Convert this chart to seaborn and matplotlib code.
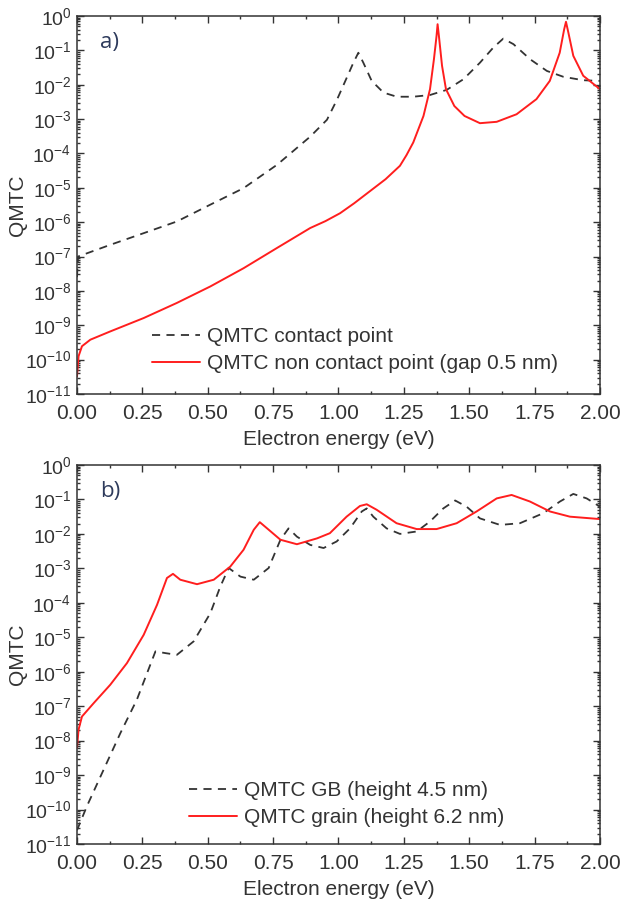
import matplotlib
matplotlib.use("Agg")
import matplotlib.pyplot as plt
import matplotlib.ticker as mticker
import numpy as np
import seaborn as sns

# panel a) contact vs non-contact point, values as log10(QMTC)
a_contact_e = [0.000, 0.004, 0.127, 0.255, 0.382, 0.51, 0.637, 0.765, 0.892, 0.956, 0.994,
               1.018, 1.057, 1.076, 1.095, 1.127, 1.172, 1.223, 1.286, 1.35, 1.414, 1.478,
               1.541, 1.592, 1.63, 1.669, 1.733, 1.797, 1.86, 1.936, 2.0]
a_contact_log = [-7.60, -7.00, -6.66, -6.32, -5.98, -5.49, -5.01, -4.33, -3.51, -3.02, -2.44,
                 -2.03, -1.36, -1.07, -1.36, -1.89, -2.23, -2.35, -2.35, -2.30, -2.15, -1.84,
                 -1.36, -0.92, -0.66, -0.82, -1.26, -1.60, -1.77, -1.87, -1.89]

a_gap_e = [0.000, 0.006, 0.019, 0.051, 0.127, 0.255, 0.382, 0.51, 0.637, 0.765, 0.892, 0.95,
           1.006, 1.06, 1.12, 1.18, 1.235, 1.26, 1.286, 1.325, 1.35, 1.365, 1.375, 1.379,
           1.384, 1.396, 1.411, 1.443, 1.482, 1.541, 1.605, 1.681, 1.757, 1.808, 1.846,
           1.863, 1.87, 1.879, 1.898, 1.936, 2.0]
a_gap_log = [-10.49, -9.90, -9.61, -9.42, -9.18, -8.79, -8.35, -7.87, -7.34, -6.75, -6.17, -5.97,
             -5.74, -5.45, -5.10, -4.75, -4.36, -4.05, -3.68, -2.91, -2.13, -1.26, -0.58, -0.24,
             -0.58, -1.45, -2.13, -2.62, -2.91, -3.12, -3.08, -2.86, -2.42, -1.89, -1.07,
             -0.39, -0.17, -0.48, -1.16, -1.74, -2.13]

# panel b) grain boundary vs grain
b_gb_e = [0.000, 0.038, 0.102, 0.166, 0.229, 0.268, 0.30, 0.338, 0.382, 0.446, 0.51, 0.548,
          0.58, 0.625, 0.676, 0.733, 0.778, 0.809, 0.841, 0.892, 0.943, 0.993, 1.044, 1.089,
          1.108, 1.133, 1.184, 1.235, 1.299, 1.35, 1.401, 1.446, 1.49, 1.541, 1.618, 1.694,
          1.783, 1.847, 1.898, 1.949, 2.0]
b_gb_log = [-10.60, -9.90, -8.84, -7.78, -6.81, -6.04, -5.41, -5.46, -5.51, -5.12, -4.30, -3.53,
            -2.99, -3.24, -3.33, -2.99, -2.17, -1.84, -2.08, -2.32, -2.41, -2.22, -1.84, -1.35,
            -1.26, -1.50, -1.84, -2.00, -1.93, -1.64, -1.26, -1.03, -1.21, -1.55, -1.74, -1.69,
            -1.40, -1.06, -0.84, -0.97, -1.21]

b_grain_e = [0.000, 0.006, 0.019, 0.064, 0.127, 0.191, 0.255, 0.306, 0.344, 0.367, 0.395, 0.459,
             0.523, 0.586, 0.637, 0.676, 0.699, 0.727, 0.778, 0.841, 0.918, 0.967, 1.031, 1.082,
             1.108, 1.146, 1.222, 1.299, 1.375, 1.452, 1.528, 1.605, 1.662, 1.732, 1.809,
             1.885, 2.0]
b_grain_log = [-8.21, -7.68, -7.30, -6.91, -6.38, -5.75, -4.93, -4.06, -3.28, -3.16, -3.33, -3.46,
               -3.33, -2.95, -2.46, -1.88, -1.66, -1.84, -2.17, -2.30, -2.13, -1.98, -1.50, -1.19,
               -1.14, -1.30, -1.69, -1.86, -1.86, -1.69, -1.35, -0.97, -0.87, -1.06, -1.35,
               -1.50, -1.57]

x_ticks = [0.00, 0.25, 0.50, 0.75, 1.00, 1.25, 1.50, 1.75, 2.00]
y_ticks = [10.0 ** k for k in range(-11, 1)]

DARK = "#333333"
RED = "#ff1e1e"

sns.set_theme(style="ticks")
plt.rcParams["font.family"] = ["Liberation Sans", "DejaVu Sans"]
plt.rcParams["mathtext.fontset"] = "custom"
plt.rcParams["mathtext.rm"] = "Liberation Sans"
plt.rcParams["mathtext.it"] = "Liberation Sans"


def _style_axis(ax, tag):
    ax.set_yscale("log")
    ax.set_xlim(0, 2)
    ax.set_ylim(1e-11, 1)
    ax.set_xticks(x_ticks)
    ax.xaxis.set_major_formatter(mticker.FormatStrFormatter("%.2f"))
    ax.xaxis.set_minor_locator(mticker.MultipleLocator(0.125))
    ax.set_yticks(y_ticks)
    ax.yaxis.set_minor_locator(mticker.LogLocator(base=10, subs=np.arange(2, 10), numticks=100))
    ax.yaxis.set_minor_formatter(mticker.NullFormatter())
    ax.tick_params(which="both", direction="in", top=True, right=True, colors=DARK,
                   labelcolor=DARK, labelsize=15, width=1)
    ax.tick_params(which="major", length=5, pad=4)
    ax.tick_params(axis="x", which="major", pad=7)
    ax.tick_params(axis="y", which="major", labelsize=14)
    ax.tick_params(which="minor", length=2.5)
    for sp in ax.spines.values():
        sp.set_color(DARK)
        sp.set_linewidth(1.1)
        sp.set_visible(True)
    ax.set_xlabel("Electron energy (eV)", fontsize=15, color=DARK)
    ax.set_ylabel("QMTC", fontsize=15, color=DARK)
    ax.xaxis.set_label_coords(0.5, -0.094)
    ax.yaxis.set_label_coords(-0.096, 0.5)
    ax.text(0.044, 0.929, tag, transform=ax.transAxes, fontsize=16, color="#2e3b5c",
            family=["Open Sans", "DejaVu Sans"], va="center", ha="left")


fig = plt.figure(figsize=(6.24, 9.02), dpi=100)
ax_a = fig.add_axes([0.1234, 0.5632, 0.8381, 0.4191])
ax_b = fig.add_axes([0.1234, 0.0643, 0.8381, 0.4202])

sns.lineplot(x=a_contact_e, y=10.0 ** np.array(a_contact_log), ax=ax_a, color=DARK,
             linewidth=1.3, dashes=(4.5, 3.5), label="QMTC contact point", sort=False)
sns.lineplot(x=a_gap_e, y=10.0 ** np.array(a_gap_log), ax=ax_a, color=RED,
             linewidth=1.4, label="QMTC non contact point (gap 0.5 nm)", sort=False)

sns.lineplot(x=b_gb_e, y=10.0 ** np.array(b_gb_log), ax=ax_b, color=DARK,
             linewidth=1.3, dashes=(4.5, 3.5), label="QMTC GB (height 4.5 nm)", sort=False)
sns.lineplot(x=b_grain_e, y=10.0 ** np.array(b_grain_log), ax=ax_b, color=RED,
             linewidth=1.4, label="QMTC grain (height 6.2 nm)", sort=False)

_style_axis(ax_a, "a)")
_style_axis(ax_b, "b)")

for ax, anchor in ((ax_a, (0.143, 0.177)), (ax_b, (0.214, 0.166))):
    leg = ax.legend(loc="upper left", bbox_to_anchor=anchor, frameon=False, fontsize=15,
                    handlelength=2.3, handletextpad=0.35, labelspacing=0.4,
                    borderpad=0, borderaxespad=0)
    for t in leg.get_texts():
        t.set_color(DARK)

fig.savefig("out.png", dpi=100)
